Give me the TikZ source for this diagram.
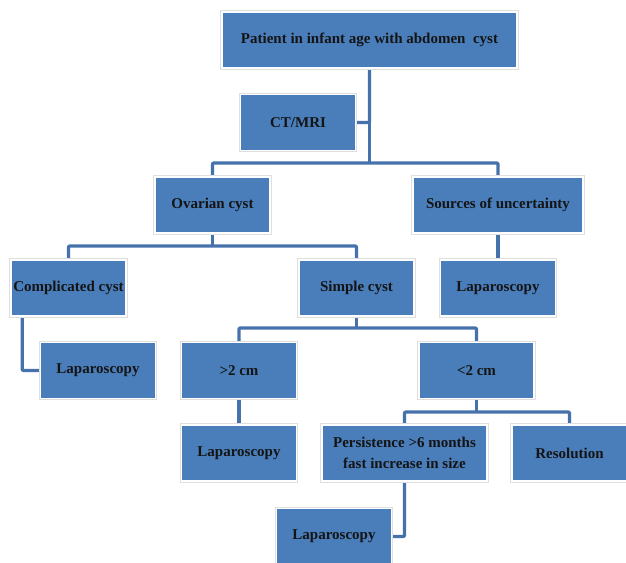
\documentclass[tikz,border=0pt]{standalone}
\usepackage{fontspec}
\setmainfont{Liberation Serif}
\definecolor{boxblue}{HTML}{4A7EBB}
\definecolor{linkblue}{HTML}{4672AC}
\pgfdeclarelayer{bg}
\pgfsetlayers{bg,main}
\tikzset{
  box/.style={rectangle, fill=boxblue, draw=white, line width=1.6pt,
    preaction={draw=gray!25, line width=3.6pt},
    minimum width=#1, minimum height=56, inner sep=0pt, align=center,
    font=\bfseries\fontsize{15}{21}\selectfont, text=black!92},
  link/.style={draw=linkblue, line width=3.2pt, line join=round, rounded corners=1pt}
}
\begin{document}
\begin{tikzpicture}[x=1pt,y=-1pt]
\useasboundingbox (0,0) rectangle (626,562);
\clip (0,0) rectangle (626,562);
\node[box=295] (top) at (369.5,40) {Patient in infant age with abdomen\ \ cyst};
\node[box=115] (ct) at (298,122.5) {CT/MRI};
\node[box=115] (ov) at (212.5,205) {Ovarian cyst};
\node[box=170] (src) at (498,205) {Sources of uncertainty};
\node[box=115] (comp) at (68.5,288) {Complicated cyst};
\node[box=115] (simp) at (356.5,288) {Simple cyst};
\node[box=115] (lapR) at (498,288) {Laparoscopy};
\node[box=115] (lapL) at (98,370.5) {Laparoscopy};
\node[box=115] (gt) at (239,370.5) {>2 cm};
\node[box=115] (lt) at (476.5,370.5) {<2 cm};
\node[box=115] (lapM) at (239,453) {Laparoscopy};
\node[box=165] (pers) at (404.5,453) {Persistence >6 months\\fast increase in size};
\node[box=115] (res) at (569.5,453) {Resolution};
\node[box=115] (lapB) at (334,536.5) {Laparoscopy};
\begin{pgfonlayer}{bg}
\coordinate (j1) at (369.5,163);
\coordinate (j2) at (212.5,246);
\coordinate (j3) at (356.5,328);
\coordinate (j4) at (476.5,412);
\draw[link] (top.south) |- (ct.east);
\draw[link] (top.south) -- (j1);
\draw[link] (ov.north) |- (j1) -| (src.north);
\draw[link] (ov.south) -- (j2);
\draw[link] (comp.north) |- (j2) -| (simp.north);
\draw[link] (src.south) -- (lapR.north);
\draw[link] ([xshift=12pt]comp.south west) |- (lapL.west);
\draw[link] (simp.south) -- (j3);
\draw[link] (gt.north) |- (j3) -| (lt.north);
\draw[link] (gt.south) -- (lapM.north);
\draw[link] (lt.south) -- (j4);
\draw[link] (pers.north) |- (j4) -| (res.north);
\draw[link] (pers.south) |- (lapB.east);
\end{pgfonlayer}
\end{tikzpicture}
\end{document}
